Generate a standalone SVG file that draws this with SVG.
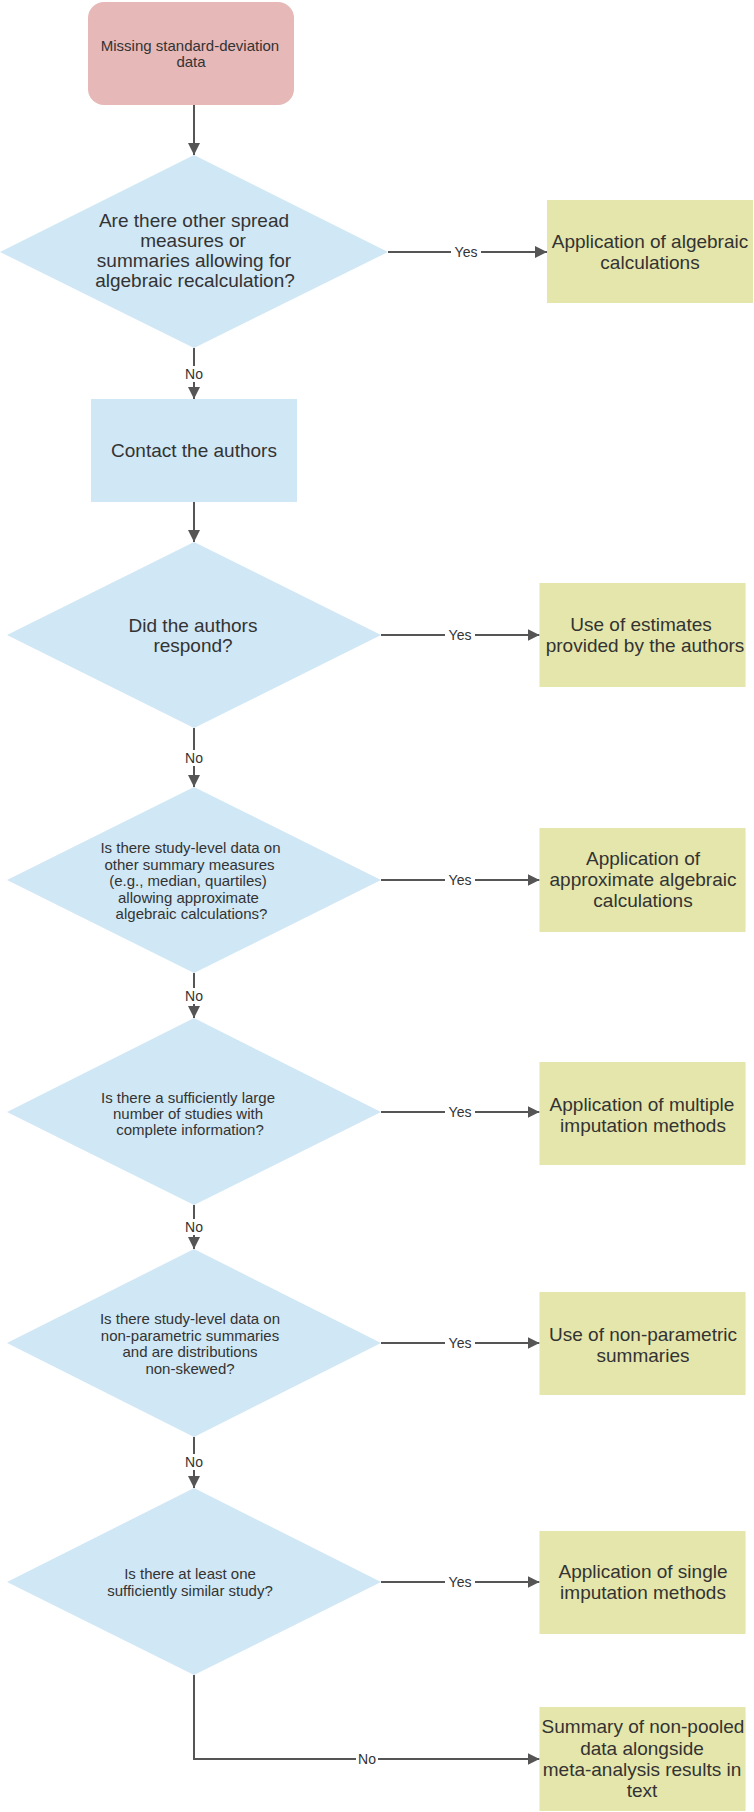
<svg xmlns="http://www.w3.org/2000/svg" width="754" height="1812" viewBox="0 0 754 1812">
<defs>
<style>
.start{fill:#e6b8b7;}
.dec{fill:#d0e7f5;}
.proc{fill:#d0e7f5;}
.out{fill:#e4e6ab;}
text{font-family:"Liberation Sans",Arial,sans-serif;fill:#333;text-anchor:middle;}
.t15{font-size:15px;}
.t19{font-size:19px;}
.lbl{font-size:14px;}
.conn{fill:none;stroke:#555;stroke-width:2;}
.lblbg{fill:#fff;}
</style>
<marker id="arr" markerUnits="userSpaceOnUse" markerWidth="12" markerHeight="12" refX="12" refY="6" orient="auto">
<path d="M0,0 L12,6 L0,12 z" fill="#555"/>
</marker>
</defs>
<rect width="754" height="1812" fill="#fff"/>

<g id="connectors">
<path class="conn" d="M194,105 V155" marker-end="url(#arr)"/>
<path class="conn" d="M388,252 H547" marker-end="url(#arr)"/>
<path class="conn" d="M194,348 V399" marker-end="url(#arr)"/>
<path class="conn" d="M194,502 V542" marker-end="url(#arr)"/>
<path class="conn" d="M381,635 H539.5" marker-end="url(#arr)"/>
<path class="conn" d="M194,728 V787" marker-end="url(#arr)"/>
<path class="conn" d="M381,880 H539.5" marker-end="url(#arr)"/>
<path class="conn" d="M194,973 V1018" marker-end="url(#arr)"/>
<path class="conn" d="M381,1112 H539.5" marker-end="url(#arr)"/>
<path class="conn" d="M194,1205 V1249" marker-end="url(#arr)"/>
<path class="conn" d="M381,1343 H539.5" marker-end="url(#arr)"/>
<path class="conn" d="M194,1437 V1488" marker-end="url(#arr)"/>
<path class="conn" d="M381,1582 H539.5" marker-end="url(#arr)"/>
<path class="conn" d="M194,1675 V1759 H539.5" marker-end="url(#arr)"/>
<g id="labels">
<rect class="lblbg" x="451" y="244" width="30" height="16"/><text class="lbl" x="466" y="257">Yes</text>
<rect class="lblbg" x="183" y="366" width="22" height="16"/><text class="lbl" x="194" y="379">No</text>
<rect class="lblbg" x="445" y="627" width="30" height="16"/><text class="lbl" x="460" y="640">Yes</text>
<rect class="lblbg" x="183" y="750" width="22" height="16"/><text class="lbl" x="194" y="763">No</text>
<rect class="lblbg" x="445" y="872" width="30" height="16"/><text class="lbl" x="460" y="885">Yes</text>
<rect class="lblbg" x="183" y="988" width="22" height="16"/><text class="lbl" x="194" y="1001">No</text>
<rect class="lblbg" x="445" y="1104" width="30" height="16"/><text class="lbl" x="460" y="1117">Yes</text>
<rect class="lblbg" x="183" y="1219" width="22" height="16"/><text class="lbl" x="194" y="1232">No</text>
<rect class="lblbg" x="445" y="1335" width="30" height="16"/><text class="lbl" x="460" y="1348">Yes</text>
<rect class="lblbg" x="183" y="1454" width="22" height="16"/><text class="lbl" x="194" y="1467">No</text>
<rect class="lblbg" x="445" y="1574" width="30" height="16"/><text class="lbl" x="460" y="1587">Yes</text>
<rect class="lblbg" x="356" y="1751" width="22" height="16"/><text class="lbl" x="367" y="1764">No</text>
</g>
</g>

<g id="start">
<rect class="start" x="88" y="2" width="206" height="103" rx="16"/>
<text class="t15" x="190" y="51">Missing standard-deviation</text>
<text class="t15" x="191" y="67">data</text>
</g>

<g id="q1">
<polygon class="dec" points="194,155 388,252 194,348 0,252"/>
<text class="t19" x="194" y="227">Are there other spread</text>
<text class="t19" x="193" y="247">measures or</text>
<text class="t19" x="194" y="267">summaries allowing for</text>
<text class="t19" x="195" y="287">algebraic recalculation?</text>
</g>

<g id="r1">
<rect class="out" x="547" y="200" width="206" height="103"/>
<text class="t19" x="650" y="248">Application of algebraic</text>
<text class="t19" x="650" y="269">calculations</text>
</g>

<g id="contact">
<rect class="proc" x="91" y="399" width="206" height="103"/>
<text class="t19" x="194" y="457">Contact the authors</text>
</g>

<g id="q2">
<polygon class="dec" points="194,542 381,635 194,728 7,635"/>
<text class="t19" x="193" y="632">Did the authors</text>
<text class="t19" x="193" y="652">respond?</text>
</g>

<g id="r2">
<rect class="out" x="539.5" y="583" width="206" height="104"/>
<text class="t19" x="641" y="631">Use of estimates</text>
<text class="t19" x="645" y="652">provided by the authors</text>
</g>

<g id="q3">
<polygon class="dec" points="194,787 381,880 194,973 7,880"/>
<text class="t15" x="190.5" y="853">Is there study-level data on</text>
<text class="t15" x="189.5" y="869.5">other summary measures</text>
<text class="t15" x="188" y="886">(e.g., median, quartiles)</text>
<text class="t15" x="188.5" y="902.5">allowing approximate</text>
<text class="t15" x="191.5" y="919">algebraic calculations?</text>
</g>

<g id="r3">
<rect class="out" x="539.5" y="828" width="206" height="104"/>
<text class="t19" x="643" y="865">Application of</text>
<text class="t19" x="643" y="886">approximate algebraic</text>
<text class="t19" x="643" y="907">calculations</text>
</g>

<g id="q4">
<polygon class="dec" points="194,1018 381,1112 194,1205 7,1112"/>
<text class="t15" x="188" y="1103">Is there a sufficiently large</text>
<text class="t15" x="188" y="1119">number of studies with</text>
<text class="t15" x="190" y="1135">complete information?</text>
</g>

<g id="r4">
<rect class="out" x="539.5" y="1062" width="206" height="103"/>
<text class="t19" x="642" y="1111">Application of multiple</text>
<text class="t19" x="643" y="1132">imputation methods</text>
</g>

<g id="q5">
<polygon class="dec" points="194,1249 381,1343 194,1437 7,1343"/>
<text class="t15" x="190" y="1324">Is there study-level data on</text>
<text class="t15" x="190" y="1340.5">non-parametric summaries</text>
<text class="t15" x="190" y="1357">and are distributions</text>
<text class="t15" x="190" y="1373.5">non-skewed?</text>
</g>

<g id="r5">
<rect class="out" x="539.5" y="1292" width="206" height="103"/>
<text class="t19" x="643" y="1341">Use of non-parametric</text>
<text class="t19" x="643" y="1362">summaries</text>
</g>

<g id="q6">
<polygon class="dec" points="194,1488 381,1582 194,1675 7,1582"/>
<text class="t15" x="190" y="1579">Is there at least one</text>
<text class="t15" x="190" y="1596">sufficiently similar study?</text>
</g>

<g id="r6">
<rect class="out" x="539.5" y="1531" width="206" height="103"/>
<text class="t19" x="643" y="1578">Application of single</text>
<text class="t19" x="643" y="1599">imputation methods</text>
</g>

<g id="r7">
<rect class="out" x="539.5" y="1707" width="206" height="104"/>
<text class="t19" x="643" y="1733">Summary of non-pooled</text>
<text class="t19" x="642" y="1755">data alongside</text>
<text class="t19" x="642" y="1776">meta-analysis results in</text>
<text class="t19" x="642" y="1797">text</text>
</g>
</svg>
